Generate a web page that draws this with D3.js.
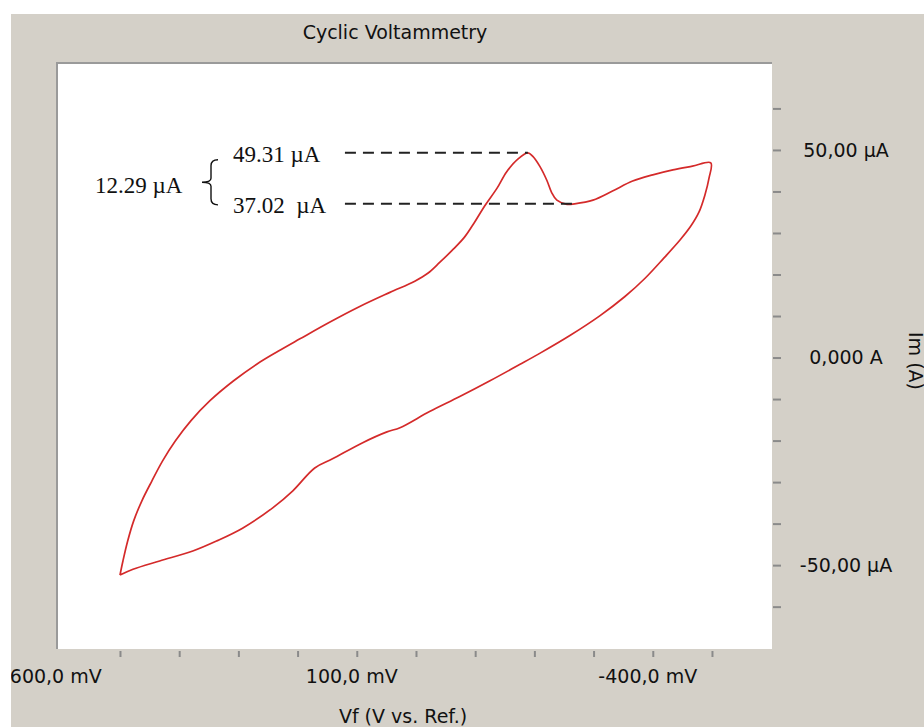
<!DOCTYPE html>
<html>
<head>
<meta charset="utf-8">
<script src="https://cdn.jsdelivr.net/npm/d3@7"></script>
<style>
  html, body { margin: 0; padding: 0; background: #fff; }
  svg { display: block; }
  .tick-label { font-family: "DejaVu Sans", sans-serif; font-size: 19px; fill: #111; }
  .note { font-family: "Liberation Serif", serif; font-size: 23px; fill: #111; white-space: pre; }
</style>
</head>
<body>
<svg width="924" height="727"></svg>
<script>
// forward scan (upper branch), mV and µA
let fwdVoltage = [500, 495, 487, 477, 463, 446, 428, 406, 380, 348, 308, 269, 233, 196, 146, 95, 44, 2,
  -20, -40, -61, -82, -99, -116, -137, -153, -172, -189, -197, -209, -221, -229, -238, -255, -268, -299,
  -332, -366, -400, -434, -467, -498];
let fwdCurrent = [-52.4, -49.0, -44.2, -39.4, -34.5, -29.7, -24.9, -20.0, -15.2, -10.4, -5.6, -1.6, 1.5, 4.5,
  8.5, 12.3, 15.7, 18.4, 20.3, 22.9, 25.8, 29.0, 32.6, 36.5, 40.8, 44.7, 47.8, 49.31, 48.5, 46.1, 42.7, 39.8,
  37.9, 36.9, 37.02, 37.9, 40.1, 42.5, 44.0, 45.2, 46.1, 46.9];
// reverse scan (lower branch)
let revVoltage = [-495, -488, -478, -464, -446, -419, -387, -353, -311, -260, -209, -175, -125, -74,
  -23, 27, 49, 90, 141, 171, 208, 242, 293, 337, 377, 433, 478, 500];
let revCurrent = [43.2, 39.1, 35.0, 31.6, 28.3, 24.0, 19.1, 14.7, 10.1, 5.3, 1.0, -1.7, -5.6, -9.4,
  -13.0, -16.9, -17.9, -20.5, -24.4, -26.6, -32.1, -36.2, -41.1, -44.2, -46.6, -49.0, -51.0, -52.4];

let xLabelValues = [600, 100, -400];
let xLabels = ["600,0 mV", "100,0 mV", "-400,0 mV"];
let xMinorTicks = [500, 400, 300, 200, 100, 0, -100, -200, -300, -400, -500];
let yLabelValues = [50, 0, -50];
let yLabels = ["50,00 µA", "0,000 A", "-50,00 µA"];
let yMinorTicks = [60, 50, 40, 30, 20, 10, 0, -10, -20, -30, -40, -50, -60];

// peak / valley annotation
let markVoltage = [-189, -268];
let markCurrent = [49.31, 37.02];
let markLabels = ["49.31 µA", "37.02  µA"];
let markStart = 120;
let diffLabel = "12.29 µA";

let svg = d3.select("svg");

// gray panel
let panel = svg.append("g");
svg.append("clipPath").attr("id", "panelClip")
  .append("rect").attr("x", 11).attr("y", 14).attr("width", 913).attr("height", 713);
panel.attr("clip-path", "url(#panelClip)");
panel.append("rect").attr("x", 11).attr("y", 14).attr("width", 913).attr("height", 713).attr("fill", "#d4d0c8");

let plot = {left: 58, right: 772, top: 64, bottom: 649};

let x = d3.scaleLinear().domain([604.7, -601.4]).range([plot.left, plot.right]);
let y = d3.scaleLinear().domain([-70.2, 70.7]).range([plot.bottom, plot.top]);

panel.append("rect")
  .attr("x", plot.left).attr("y", plot.top)
  .attr("width", plot.right - plot.left).attr("height", plot.bottom - plot.top)
  .attr("fill", "#fff");
// sunken border top + left
panel.append("path")
  .attr("d", `M${plot.left - 1},${plot.bottom} V${plot.top - 1} H${plot.right}`)
  .attr("fill", "none").attr("stroke", "#9a9a9a").attr("stroke-width", 2);

// title
panel.append("text").attr("class", "tick-label")
  .attr("x", 395).attr("y", 39).attr("text-anchor", "middle")
  .text("Cyclic Voltammetry");

// x axis ticks
let xAxis = d3.axisBottom(x).tickValues(xMinorTicks).tickFormat("").tickSize(6).tickSizeOuter(0);
let xg = panel.append("g").attr("transform", `translate(0,${plot.bottom + 2})`).call(xAxis);
xg.select(".domain").remove();
xg.selectAll("line").attr("stroke", "#8a8a8a").attr("stroke-width", 2);

panel.selectAll("text.xlab").data(xLabelValues).enter().append("text")
  .attr("class", "tick-label xlab")
  .attr("x", d => x(d) - 5).attr("y", 683).attr("text-anchor", "middle")
  .text((d, i) => xLabels[i]);

panel.append("text").attr("class", "tick-label")
  .attr("x", 403).attr("y", 723).attr("text-anchor", "middle")
  .text("Vf (V vs. Ref.)");

// y axis ticks on the right
let yAxis = d3.axisRight(y).tickValues(yMinorTicks).tickFormat("").tickSize(8).tickSizeOuter(0);
let yg = panel.append("g").attr("transform", `translate(${plot.right + 1},0)`).call(yAxis);
yg.select(".domain").remove();
yg.selectAll("line").attr("stroke", "#8a8a8a").attr("stroke-width", 2);

panel.selectAll("text.ylab").data(yLabelValues).enter().append("text")
  .attr("class", "tick-label ylab")
  .attr("x", 846).attr("y", d => y(d)).attr("dy", "0.36em").attr("text-anchor", "middle")
  .text((d, i) => yLabels[i]);

panel.append("text").attr("class", "tick-label")
  .attr("transform", "translate(909,361) rotate(90)")
  .attr("text-anchor", "middle")
  .text("Im (A)");

// CV curve
let loopV = fwdVoltage.concat(revVoltage);
let loopI = fwdCurrent.concat(revCurrent);
let line = d3.line()
  .x((d, i) => x(loopV[i]))
  .y((d, i) => y(loopI[i]))
  .curve(d3.curveCatmullRom.alpha(0.5));
panel.append("path")
  .datum(loopV)
  .attr("d", line)
  .attr("fill", "none")
  .attr("stroke", "#d42a2a")
  .attr("stroke-width", 1.7);

// dashed guides
markCurrent.forEach(function(c, i) {
  panel.append("line")
    .attr("x1", x(markStart)).attr("x2", x(markVoltage[i]))
    .attr("y1", y(c)).attr("y2", y(c))
    .attr("stroke", "#222").attr("stroke-width", 2)
    .attr("stroke-dasharray", "11,7");
  panel.append("text").attr("class", "note")
    .attr("x", 233).attr("y", y(c) + 9)
    .text(markLabels[i]);
});

// brace
let bTop = y(markCurrent[0]) + 7, bBot = y(markCurrent[1]) + 1, bMid = (bTop + bBot) / 2;
panel.append("path")
  .attr("d", `M218,${bTop} Q211,${bTop} 211,${bTop + 6} V${bMid - 4} Q211,${bMid} 202,${bMid}`
    + ` Q211,${bMid} 211,${bMid + 4} V${bBot - 6} Q211,${bBot} 218,${bBot}`)
  .attr("fill", "none").attr("stroke", "#111").attr("stroke-width", 1.4);

panel.append("text").attr("class", "note")
  .attr("x", 95).attr("y", bMid + 11)
  .text(diffLabel);
</script>
</body>
</html>
